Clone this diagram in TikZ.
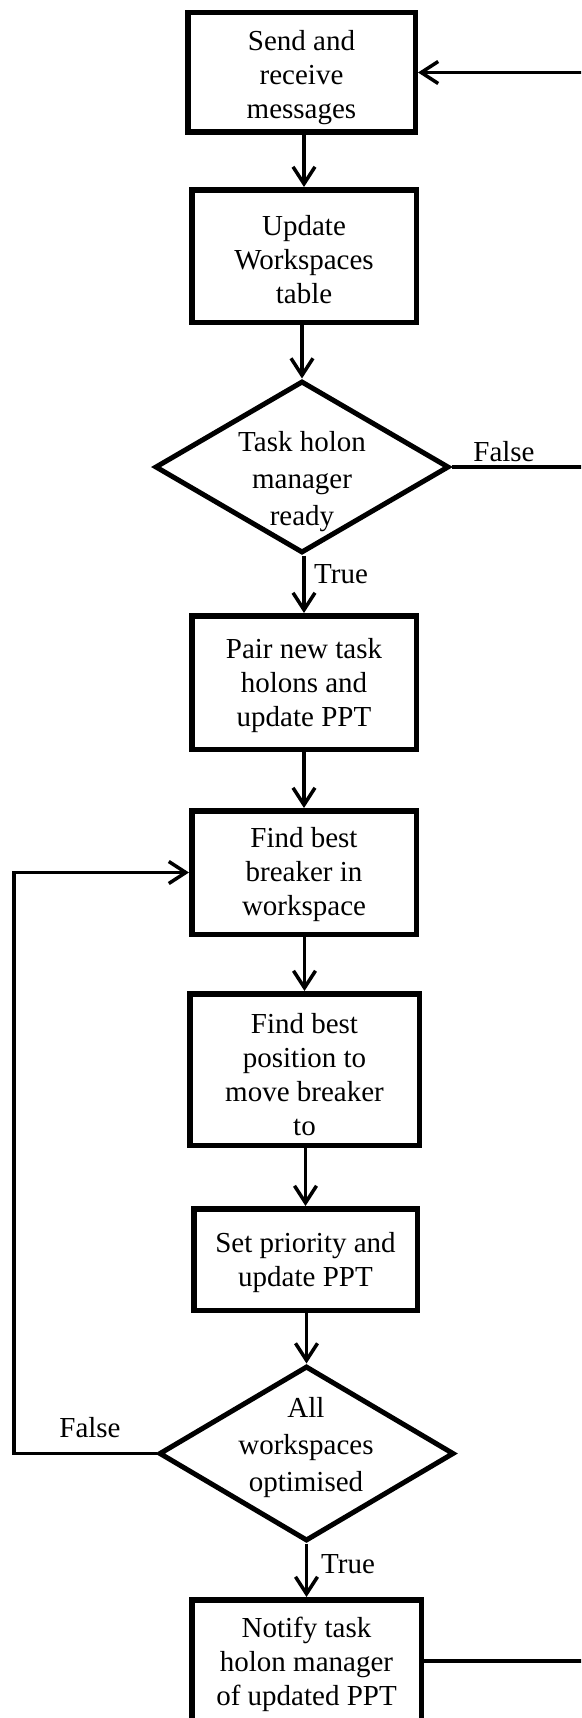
\documentclass[tikz,border=0pt]{standalone}
\usepackage{fontspec}
\setmainfont{Liberation Serif}
\usetikzlibrary{arrows.meta,shapes.geometric}

\tikzset{
  txt/.style={font=\fontsize{29}{34}\selectfont, align=center, inner sep=0pt},
  dtxt/.style={font=\fontsize{29}{37}\selectfont, align=center, inner sep=0pt},
  stepbox/.style={draw, line width=5.5pt, fill=white},
  decision/.style={draw, diamond, line width=5pt, line join=miter, inner sep=0pt, fill=white},
  conn/.style={line width=3.5pt, -{Straight Barb[length=17pt,width=22pt]}},
  plain/.style={line width=3.5pt},
  lbl/.style={txt}
}

\begin{document}
\begin{tikzpicture}[x=1pt,y=-1pt]
  \useasboundingbox (0,0) rectangle (581,1718);
  \clip (0,0) rectangle (581,1718);

  % process steps and decisions (outlines)
  \node[stepbox, minimum width=227.5pt, minimum height=119.5pt] (b1) at (301.5,72.5) {};
  \node[stepbox, minimum width=224.5pt, minimum height=132.5pt] (b2) at (304,256) {};
  \node[decision, minimum width=294pt, minimum height=172pt] (d1) at (302,467) {};
  \node[stepbox, minimum width=224.5pt, minimum height=133.5pt] (b3) at (304,682.5) {};
  \node[stepbox, minimum width=224.5pt, minimum height=123.5pt] (b4) at (304,872.5) {};
  \node[stepbox, minimum width=229.5pt, minimum height=151.5pt] (b5) at (304.5,1069.5) {};
  \node[stepbox, minimum width=223.5pt, minimum height=101.5pt] (b6) at (305.5,1259.5) {};
  \node[decision, minimum width=295pt, minimum height=175pt] (d2) at (306.5,1453.5) {};
  \node[stepbox, minimum width=229.5pt, minimum height=122.5pt] (b7) at (306.5,1661) {};

  % their texts
  \node[txt] (b1t) at ([yshift=-5pt]b1.center) {Send and\\receive\\messages};
  \node[txt] (b2t) at ([yshift=-4pt]b2.center) {Update\\Workspaces\\table};
  \node[dtxt] (d1t) at (302,482) {Task holon\\manager\\ready};
  \node[txt] (b3t) at ([yshift=-3.5pt]b3.center) {Pair new task\\holons and\\update PPT};
  \node[txt] (b4t) at ([yshift=-2pt]b4.center) {Find best\\breaker in\\workspace};
  \node[txt] (b5t) at ([yshift=-5pt]b5.center) {Find best\\position to\\move breaker\\to};
  \node[txt] (b6t) at ([yshift=-3pt]b6.center) {Set priority and\\update PPT};
  \node[dtxt] (d2t) at (306,1448) {All\\workspaces\\optimised};
  \node[txt] (b7t) at ([yshift=-3pt]b7.center) {Notify task\\holon manager\\of updated PPT};

  % turning points of the two loops
  \coordinate (L) at (14,1453.5);
  \coordinate (R) at (600,1661);

  % main flow
  \draw[conn] (b2.north |- b1.south) -- (b2.north);
  \draw[conn] (d1.north |- b2.south) -- (d1.north);
  \draw[conn] (b3.north |- d1.south) -- (b3.north);
  \draw[conn] (b4.north |- b3.south) -- (b4.north);
  \draw[conn] (b5.north |- b4.south) -- (b5.north);
  \draw[conn] (b6.north |- b5.south) -- (b6.north);
  \draw[conn] (d2.north |- b6.south) -- (d2.north);
  \draw[conn] (b7.north |- d2.south) -- (b7.north);

  % loops
  \draw[plain] (d1.east) -- (d1.east -| R);
  \draw[conn] (b7.east) -- (R) |- (b1.east);
  \draw[conn] (d2.west) -- (L) |- (b4.west);

  % branch labels
  \node[lbl] (f1) at (504,452) {False};
  \node[lbl] (t1) at (341,574) {True};
  \node[lbl] (f2) at (90,1428) {False};
  \node[lbl] (t2) at (348,1564) {True};
\end{tikzpicture}
\end{document}
